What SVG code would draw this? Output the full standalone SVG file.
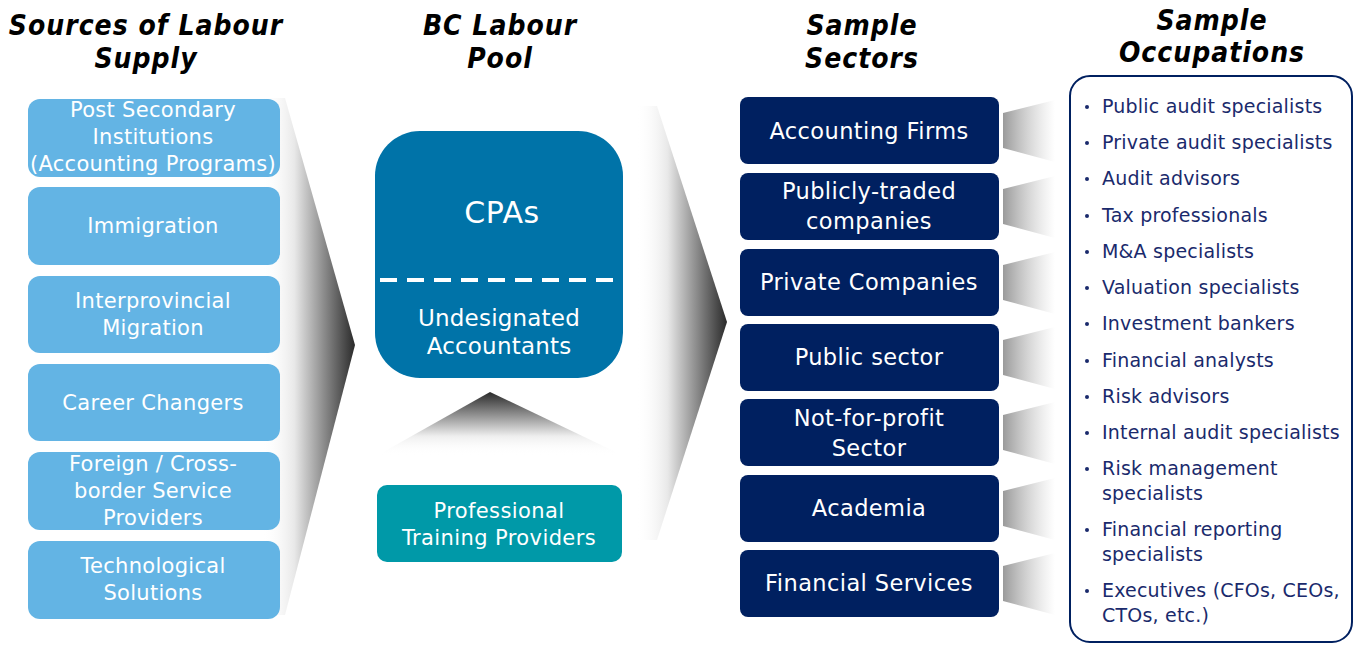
<svg xmlns="http://www.w3.org/2000/svg" width="1354" height="646" viewBox="0 0 1354 646">
  <style>
    .head { font-family: "DejaVu Sans Condensed", "Liberation Sans", Arial, sans-serif; font-weight: bold; font-style: italic; font-size: 28px; letter-spacing: 1px; fill: #000; text-anchor: middle; }
    .src rect { fill: #63B4E4; }
    .lbl { font-family: "DejaVu Sans", Verdana, sans-serif; fill: #fff; text-anchor: middle; }
    .src text { font-size: 21px; letter-spacing: 0.3px; }
    .sec rect { fill: #002060; }
    .sec text { font-size: 22.5px; letter-spacing: 0.4px; }
    .occ { font-family: "DejaVu Sans", Verdana, sans-serif; font-size: 19px; letter-spacing: 0.2px; fill: #1A2A6C; }
  </style>
  <defs>
    <linearGradient id="gH" x1="0" y1="0" x2="1" y2="0">
      <stop offset="0" stop-color="#ffffff" stop-opacity="0"/>
      <stop offset="0.35" stop-color="#e8e8e8"/>
      <stop offset="1" stop-color="#2a2a2a"/>
    </linearGradient>
    <linearGradient id="gV" x1="0" y1="1" x2="0" y2="0">
      <stop offset="0" stop-color="#ffffff" stop-opacity="0"/>
      <stop offset="0.3" stop-color="#eeeeee"/>
      <stop offset="1" stop-color="#2a2a2a"/>
    </linearGradient>
    <linearGradient id="gT" x1="0" y1="0" x2="1" y2="0">
      <stop offset="0" stop-color="#9a9a9a"/>
      <stop offset="1" stop-color="#ffffff" stop-opacity="0.6"/>
    </linearGradient>
  </defs>

  <!-- column headings -->
  <g id="headings">
    <text class="head" x="146" y="35">Sources of Labour</text>
    <text class="head" x="146" y="68">Supply</text>
    <text class="head" x="500" y="35">BC Labour</text>
    <text class="head" x="500" y="68">Pool</text>
    <text class="head" x="862" y="35">Sample</text>
    <text class="head" x="862" y="68">Sectors</text>
    <text class="head" x="1212" y="30">Sample</text>
    <text class="head" x="1212" y="62">Occupations</text>
  </g>

  <!-- connectors: gradient chevrons and wedges -->
  <g id="connectors">
    <path d="M262,98 L285,98 L355,345 L285,615 L262,615 Z" fill="url(#gH)"/>
    <path d="M636,106 L657,106 L727,322 L657,540 L636,540 Z" fill="url(#gH)"/>
    <path d="M378,455 L490,392 L622,455 Z" fill="url(#gV)"/>
    <g fill="url(#gT)">
      <path d="M1003,113 L1055,100 L1055,162 L1003,148 Z"/>
      <path d="M1003,189 L1055,176 L1055,238 L1003,224 Z"/>
      <path d="M1003,265 L1055,252 L1055,314 L1003,300 Z"/>
      <path d="M1003,340 L1055,327 L1055,389 L1003,375 Z"/>
      <path d="M1003,415 L1055,402 L1055,464 L1003,450 Z"/>
      <path d="M1003,491 L1055,478 L1055,540 L1003,526 Z"/>
      <path d="M1003,566 L1055,553 L1055,615 L1003,601 Z"/>
    </g>
  </g>

  <!-- sources of labour supply -->
  <g id="sources" class="src">
    <g id="src-postsecondary">
      <rect x="28" y="99" width="252" height="78" rx="12"/>
      <text class="lbl" x="153" y="117">Post Secondary</text>
      <text class="lbl" x="153" y="144">Institutions</text>
      <text class="lbl" x="153" y="171">(Accounting Programs)</text>
    </g>
    <g id="src-immigration">
      <rect x="28" y="187" width="252" height="78" rx="12"/>
      <text class="lbl" x="153" y="233">Immigration</text>
    </g>
    <g id="src-interprovincial">
      <rect x="28" y="276" width="252" height="77" rx="12"/>
      <text class="lbl" x="153" y="308">Interprovincial</text>
      <text class="lbl" x="153" y="335">Migration</text>
    </g>
    <g id="src-career">
      <rect x="28" y="364" width="252" height="77" rx="12"/>
      <text class="lbl" x="153" y="410">Career Changers</text>
    </g>
    <g id="src-foreign">
      <rect x="28" y="452" width="252" height="78" rx="12"/>
      <text class="lbl" x="153" y="471">Foreign / Cross-</text>
      <text class="lbl" x="153" y="498">border Service</text>
      <text class="lbl" x="153" y="525">Providers</text>
    </g>
    <g id="src-tech">
      <rect x="28" y="541" width="252" height="78" rx="12"/>
      <text class="lbl" x="153" y="573">Technological</text>
      <text class="lbl" x="153" y="600">Solutions</text>
    </g>
  </g>

  <!-- BC labour pool -->
  <g id="pool">
    <rect x="375" y="131" width="248" height="247" rx="45" fill="#0073A8"/>
    <line x1="380" y1="280" x2="623" y2="280" stroke="#fff" stroke-width="4" stroke-dasharray="17,10"/>
    <text class="lbl" x="502" y="223" font-size="30" letter-spacing="0.5">CPAs</text>
    <text class="lbl" x="499" y="326" font-size="23" letter-spacing="0.2">Undesignated</text>
    <text class="lbl" x="499" y="354" font-size="23" letter-spacing="0.2">Accountants</text>
  </g>

  <g id="training">
    <rect x="377" y="485" width="245" height="77" rx="10" fill="#0099A8"/>
    <text class="lbl" x="499" y="518" font-size="21" letter-spacing="0.4">Professional</text>
    <text class="lbl" x="499" y="545" font-size="21" letter-spacing="0.4">Training Providers</text>
  </g>

  <!-- sample sectors -->
  <g id="sectors" class="sec">
    <g id="sec-accounting">
      <rect x="740" y="97" width="259" height="67" rx="8"/>
      <text class="lbl" x="869" y="139">Accounting Firms</text>
    </g>
    <g id="sec-public-traded">
      <rect x="740" y="173" width="259" height="67" rx="8"/>
      <text class="lbl" x="869" y="199">Publicly-traded</text>
      <text class="lbl" x="869" y="229">companies</text>
    </g>
    <g id="sec-private">
      <rect x="740" y="249" width="259" height="67" rx="8"/>
      <text class="lbl" x="869" y="290">Private Companies</text>
    </g>
    <g id="sec-public">
      <rect x="740" y="324" width="259" height="67" rx="8"/>
      <text class="lbl" x="869" y="365">Public sector</text>
    </g>
    <g id="sec-nfp">
      <rect x="740" y="399" width="259" height="67" rx="8"/>
      <text class="lbl" x="869" y="426">Not-for-profit</text>
      <text class="lbl" x="869" y="456">Sector</text>
    </g>
    <g id="sec-academia">
      <rect x="740" y="475" width="259" height="67" rx="8"/>
      <text class="lbl" x="869" y="516">Academia</text>
    </g>
    <g id="sec-financial">
      <rect x="740" y="550" width="259" height="67" rx="8"/>
      <text class="lbl" x="869" y="591">Financial Services</text>
    </g>
  </g>

  <!-- sample occupations -->
  <g id="occupations">
    <rect x="1070" y="76" width="282" height="566" rx="20" fill="#fff" stroke="#002060" stroke-width="2"/>
    <g fill="#1A2A6C">
      <circle cx="1087" cy="107" r="2"/>
      <circle cx="1087" cy="143" r="2"/>
      <circle cx="1087" cy="179" r="2"/>
      <circle cx="1087" cy="216" r="2"/>
      <circle cx="1087" cy="252" r="2"/>
      <circle cx="1087" cy="288" r="2"/>
      <circle cx="1087" cy="324" r="2"/>
      <circle cx="1087" cy="361" r="2"/>
      <circle cx="1087" cy="397" r="2"/>
      <circle cx="1087" cy="433" r="2"/>
      <circle cx="1087" cy="469" r="2"/>
      <circle cx="1087" cy="530" r="2"/>
      <circle cx="1087" cy="591" r="2"/>
    </g>
    <text class="occ" x="1102" y="113">Public audit specialists</text>
    <text class="occ" x="1102" y="149">Private audit specialists</text>
    <text class="occ" x="1102" y="185">Audit advisors</text>
    <text class="occ" x="1102" y="222">Tax professionals</text>
    <text class="occ" x="1102" y="258">M&amp;A specialists</text>
    <text class="occ" x="1102" y="294">Valuation specialists</text>
    <text class="occ" x="1102" y="330">Investment bankers</text>
    <text class="occ" x="1102" y="367">Financial analysts</text>
    <text class="occ" x="1102" y="403">Risk advisors</text>
    <text class="occ" x="1102" y="439">Internal audit specialists</text>
    <text class="occ" x="1102" y="475">Risk management</text>
    <text class="occ" x="1102" y="500">specialists</text>
    <text class="occ" x="1102" y="536">Financial reporting</text>
    <text class="occ" x="1102" y="561">specialists</text>
    <text class="occ" x="1102" y="597">Executives (CFOs, CEOs,</text>
    <text class="occ" x="1102" y="622">CTOs, etc.)</text>
  </g>
</svg>
